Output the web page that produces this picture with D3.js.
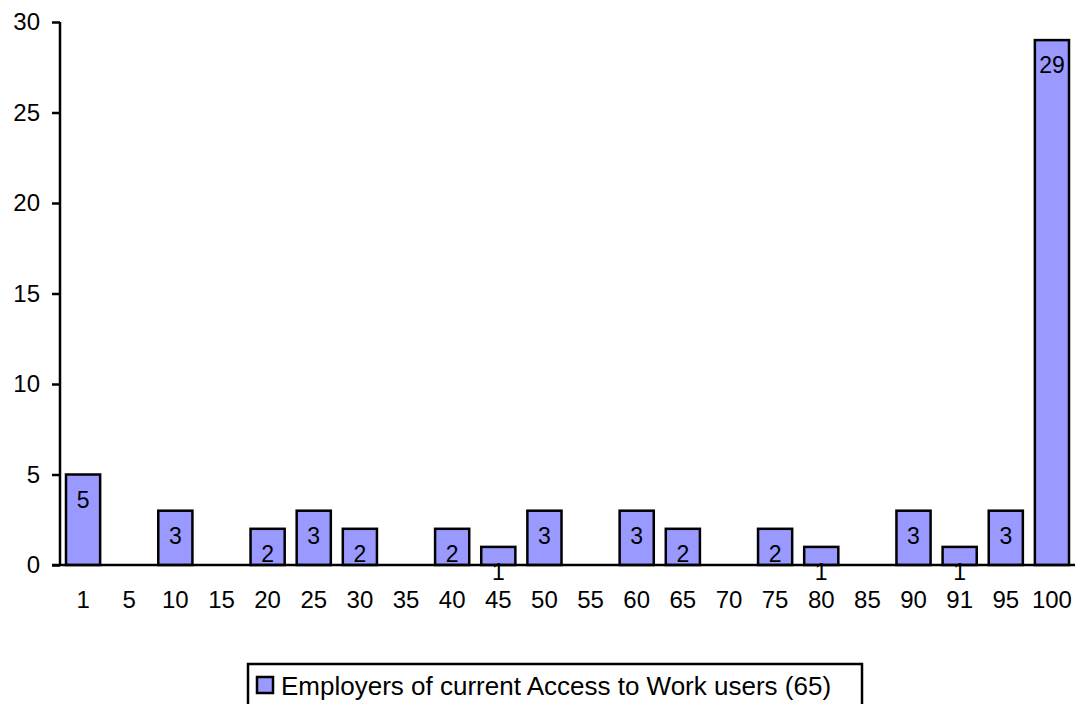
<!DOCTYPE html>
<html>
<head>
<meta charset="utf-8">
<script src="https://cdnjs.cloudflare.com/ajax/libs/d3/7.8.5/d3.min.js"></script>
<style>
  body { margin: 0; background: #fff; }
  svg text { font-family: "Liberation Sans", Arial, sans-serif; fill: #000; }
</style>
</head>
<body>
<div id="chart"></div>
<script>
const categories = ['1','5','10','15','20','25','30','35','40','45','50','55','60','65','70','75','80','85','90','91','95','100'];
const counts = [5,0,3,0,2,3,2,0,2,1,3,0,3,2,0,2,1,0,3,1,3,29];
const yTicks = [0,5,10,15,20,25,30];
const seriesName = 'Employers of current Access to Work users (65)';

const width = 1082, height = 704;
const plotLeft = 60, plotRight = 1075, plotTop = 22, plotBottom = 565;

const svg = d3.select('#chart').append('svg')
    .attr('width', width)
    .attr('height', height);

const x = d3.scaleBand().domain(categories).range([plotLeft, plotRight])
    .paddingInner(0.26).paddingOuter(0.13);
const y = d3.scaleLinear().domain([0, 30]).range([plotBottom, plotTop]);

// bars
const data = categories.map((c, i) => ({ cat: c, v: counts[i] }));
svg.selectAll('.bar')
    .data(data.filter(d => d.v > 0))
  .enter().append('rect')
    .attr('class', 'bar')
    .attr('x', d => x(d.cat))
    .attr('y', d => y(d.v))
    .attr('width', x.bandwidth())
    .attr('height', d => y(0) - y(d.v))
    .attr('fill', '#9999ff')
    .attr('stroke', '#000')
    .attr('stroke-width', 2.5);

// value labels, inside end like excel
svg.selectAll('.lbl')
    .data(data.filter(d => d.v > 0))
  .enter().append('text')
    .attr('class', 'lbl')
    .attr('x', d => x(d.cat) + x.bandwidth() / 2)
    .attr('y', d => y(d.v) + 25)
    .attr('text-anchor', 'middle')
    .attr('dominant-baseline', 'central')
    .style('font-size', '23px')
    .text(d => d.v);

// y axis
const yAxis = svg.append('g')
    .attr('transform', `translate(${plotLeft},0)`)
    .call(d3.axisLeft(y).tickValues(yTicks).tickSize(8).tickPadding(12));
yAxis.select('.domain').attr('stroke', '#000').attr('stroke-width', 2.5)
    .attr('d', `M0,${y(0)}V${y(30)}`);
yAxis.selectAll('.tick line').attr('stroke', '#000').attr('stroke-width', 2.5);
yAxis.selectAll('.tick text').style('font-size', '24px');

// x axis
const xAxis = svg.append('g')
    .attr('transform', `translate(0,${plotBottom})`)
    .call(d3.axisBottom(x).tickSize(0).tickPadding(26));
xAxis.select('.domain').attr('stroke', '#000').attr('stroke-width', 2.5)
    .attr('d', `M${plotLeft - 8},0H${plotRight}`);
xAxis.selectAll('.tick text').style('font-size', '24px');

// legend
const legend = svg.append('g').attr('transform', 'translate(248,664)');
legend.append('rect')
    .attr('x', 0).attr('y', 0)
    .attr('width', 614).attr('height', 60)
    .attr('fill', '#fff')
    .attr('stroke', '#000')
    .attr('stroke-width', 2.5);
legend.append('rect')
    .attr('x', 9).attr('y', 13)
    .attr('width', 16).attr('height', 16)
    .attr('fill', '#9999ff')
    .attr('stroke', '#000')
    .attr('stroke-width', 2.5);
legend.append('text')
    .attr('x', 33).attr('y', 22)
    .attr('dominant-baseline', 'central')
    .style('font-size', '26px')
    .text(seriesName);
</script>
</body>
</html>
